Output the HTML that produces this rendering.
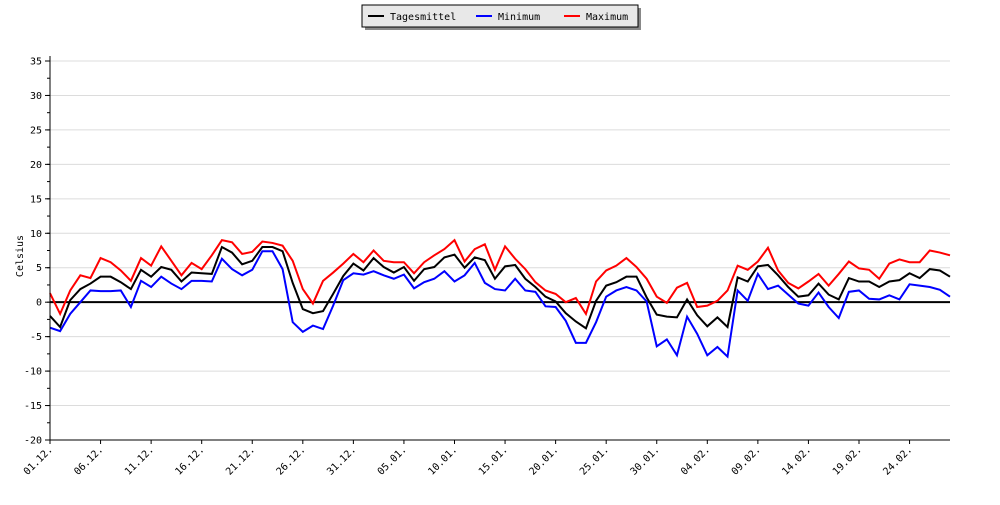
<!DOCTYPE html>
<html><head><meta charset="utf-8"><style>
body{margin:0;background:#fff;width:1000px;height:500px;overflow:hidden}
svg text{font-family:"DejaVu Sans Mono","Liberation Mono",monospace;font-size:10px;fill:#000}
</style></head><body>
<svg id="chart" width="1000" height="500" xmlns="http://www.w3.org/2000/svg">
<g>
<rect x="365" y="8" width="276" height="22" fill="#888"/>
<rect x="362" y="5" width="276" height="22" fill="#e8e8e8" stroke="#000" stroke-width="1"/>
<line x1="368" y1="16" x2="384" y2="16" stroke="#000" stroke-width="2"/>
<text x="390" y="20">Tagesmittel</text>
<line x1="476" y1="16" x2="492" y2="16" stroke="#0000ff" stroke-width="2"/>
<text x="498" y="20">Minimum</text>
<line x1="564" y1="16" x2="580" y2="16" stroke="#ff0000" stroke-width="2"/>
<text x="586" y="20">Maximum</text>
</g>
<text transform="translate(23,256) rotate(-90)" text-anchor="middle">Celsius</text>
<g id="grid"></g><g id="series"></g><g id="axes"></g>
</svg>
<script>
const dayLabels=["01.12.","06.12.","11.12.","16.12.","21.12.","26.12.","31.12.","05.01.","10.01.","15.01.","20.01.","25.01.","30.01.","04.02.","09.02.","14.02.","19.02.","24.02."];
const yTicks=[-20,-15,-10,-5,0,5,10,15,20,25,30,35];
const meanVals=[-2.0,-3.6,0.3,1.9,2.7,3.7,3.7,2.9,1.9,4.7,3.7,5.1,4.7,3.0,4.3,4.2,4.1,8.0,7.2,5.5,6.0,8.0,8.0,7.4,2.8,-1.0,-1.6,-1.3,1.2,3.8,5.6,4.6,6.4,5.1,4.3,5.1,3.1,4.8,5.1,6.5,6.9,5.0,6.5,6.1,3.4,5.2,5.4,3.4,2.2,0.8,0.1,-1.6,-2.8,-3.8,0.2,2.4,2.9,3.7,3.7,0.7,-1.8,-2.1,-2.2,0.4,-1.9,-3.5,-2.2,-3.6,3.6,3.0,5.2,5.4,3.9,2.2,0.8,1.0,2.7,1.1,0.4,3.5,3.0,3.0,2.2,3.0,3.2,4.2,3.5,4.8,4.6,3.7];
const minVals=[-3.7,-4.2,-1.7,0.0,1.7,1.6,1.6,1.7,-0.7,3.1,2.2,3.7,2.7,1.9,3.1,3.1,3.0,6.3,4.8,3.9,4.7,7.4,7.4,4.8,-2.9,-4.3,-3.4,-3.9,-0.5,3.2,4.2,4.0,4.5,3.9,3.4,4.0,2.0,2.9,3.4,4.5,3.0,3.9,5.7,2.8,1.9,1.7,3.4,1.7,1.5,-0.6,-0.7,-2.7,-5.9,-5.9,-2.9,0.8,1.7,2.2,1.7,0.1,-6.4,-5.4,-7.7,-2.1,-4.6,-7.7,-6.5,-7.9,1.7,0.2,4.1,1.9,2.4,1.1,-0.2,-0.5,1.4,-0.7,-2.3,1.5,1.7,0.5,0.4,1.0,0.4,2.6,2.4,2.2,1.8,0.8];
const maxVals=[1.3,-1.7,1.7,3.9,3.5,6.4,5.8,4.6,3.1,6.4,5.3,8.1,6.0,3.9,5.7,4.8,6.8,9.0,8.7,7.0,7.3,8.8,8.6,8.2,6.0,1.9,-0.2,3.1,4.3,5.6,7.0,5.8,7.5,6.0,5.8,5.8,4.2,5.8,6.8,7.7,9.0,5.9,7.7,8.4,4.7,8.1,6.3,4.8,2.9,1.7,1.2,0.0,0.6,-1.7,3.0,4.6,5.3,6.4,5.1,3.4,0.8,-0.1,2.1,2.8,-0.7,-0.5,0.2,1.7,5.3,4.7,5.9,7.9,4.6,2.8,2.0,3.0,4.1,2.4,4.1,5.9,4.9,4.7,3.4,5.6,6.2,5.8,5.8,7.5,7.2,6.8];
const NS="http://www.w3.org/2000/svg";
const X0=50,X1=950,YT=61,YB=440,VMIN=-20,VMAX=35;
const nDays=meanVals.length;
function xs(i){return X0+i*(X1-X0)/(nDays-1);}
function ys(v){return YB-(v-VMIN)*(YB-YT)/(VMAX-VMIN);}
function mk(tag,attrs,parent){const e=document.createElementNS(NS,tag);for(const k in attrs)e.setAttribute(k,attrs[k]);parent.appendChild(e);return e;}
const grid=document.getElementById('grid'),axes=document.getElementById('axes'),series=document.getElementById('series');
yTicks.forEach(t=>{
  const y=ys(t);
  const gl=mk('line',{x1:X0,x2:X1,y1:y,y2:y,stroke:t===0?'#000':'#dcdcdc','stroke-width':t===0?2:1},grid);
  
  
  const tk=mk('line',{x1:X0-5,x2:X0,y1:y,y2:y,stroke:'#000'},axes);
  
  
  const tx=mk('text',{x:X0-8,y:y+3.5,'text-anchor':'end'},axes);
  tx.textContent=String(t);
  
  
});
for(let v=VMIN;v<=VMAX;v+=2.5){const y=ys(v);mk('line',{x1:X0-3,x2:X0,y1:y,y2:y,stroke:'#000'},axes);}
const ya=mk('line',{x1:X0,x2:X0,y1:YT-5,y2:YB,stroke:'#000'},axes);


const xa=mk('line',{x1:X0,x2:X1,y1:YB,y2:YB,stroke:'#000'},axes);


dayLabels.forEach((lab,k)=>{
  const x=xs(k*5);
  mk('line',{x1:x,x2:x,y1:YB,y2:YB+4,stroke:'#000'},axes);
  const tx=mk('text',{transform:`translate(${x+3},${YB+10}) rotate(-45)`,'text-anchor':'end'},axes);
  tx.textContent=lab;
  
  
});
function line(vals,color,name){
  const p=mk('polyline',{points:vals.map((v,i)=>xs(i)+','+ys(v)).join(' '),fill:'none',stroke:color,'stroke-width':2,'stroke-linejoin':'miter'},series);
  
  
}
line(minVals,'#0000ff','minimum-line');
line(maxVals,'#ff0000','maximum-line');
line(meanVals,'#000000','tagesmittel-line');
</script>
</body></html>
